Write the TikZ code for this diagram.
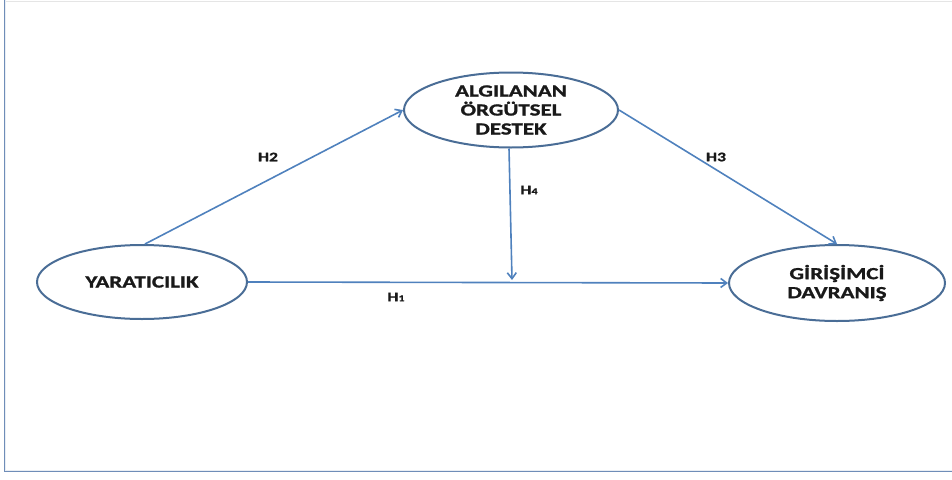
\documentclass[tikz,border=0pt]{standalone}
\usepackage{fontspec}
\setmainfont{Carlito}
\newfontfamily\lblfont[FakeStretch=1.35,FakeBold=1.2]{Carlito}
\usetikzlibrary{arrows.meta,shapes.geometric}
\definecolor{arr}{HTML}{4F81BD}
\definecolor{ell}{HTML}{4A6D96}
\definecolor{frm}{HTML}{6F8DB8}
\tikzset{
  construct/.style={ellipse, draw=ell, line width=2pt, inner sep=0pt, align=center,
    font=\lblfont\bfseries\fontsize{17}{19}\selectfont, text=black!90},
  link/.style={draw=arr, line width=1.6pt, -{Straight Barb[length=6pt,width=9pt]}},
  hlab/.style={font=\lblfont\bfseries\fontsize{13}{15}\selectfont, text=black!90},
}
\begin{document}
\begin{tikzpicture}[x=1pt,y=-1pt]
\useasboundingbox (0,0) rectangle (952,479);
% frame
\draw[black!10, line width=1pt] (5,1) -- (952,1);
\draw[frm, line width=2.6pt] (5,0) -- (5,471) -- (952,471);
\draw[white!85!frm, line width=0.6pt] (5,0) -- (5,470.5) -- (952,470.5);
% nodes
\node[construct, minimum width=214pt, minimum height=75pt] (aod) at (511,110) {ALGILANAN\\ÖRGÜTSEL\\DESTEK};
\node[construct, minimum width=210pt, minimum height=74pt] (yar) at (142,282) {YARATICILIK};
\node[construct, minimum width=216pt, minimum height=76pt] (gd) at (837,283) {GİRİŞİMCİ\\DAVRANIŞ};
\coordinate (h4end) at (512,280);
% connectors
\draw[link] (yar.north) ++(3,0) -- (aod.west);
\draw[link] (aod.east) -- (gd.north);
\draw[link] (yar.east) -- (gd.west);
\draw[link] (aod.south) ++(-2,0) -- (h4end);
% labels
\node[hlab] (l2) at (268,157) {H2};
\node[hlab] (l3) at (716,157) {H3};
\node[hlab] (l4) at (529,190) {H{\fontsize{9}{10}\selectfont 4}};
\node[hlab] (l1) at (396,297) {H{\fontsize{9}{10}\selectfont 1}};
\end{tikzpicture}
\end{document}
